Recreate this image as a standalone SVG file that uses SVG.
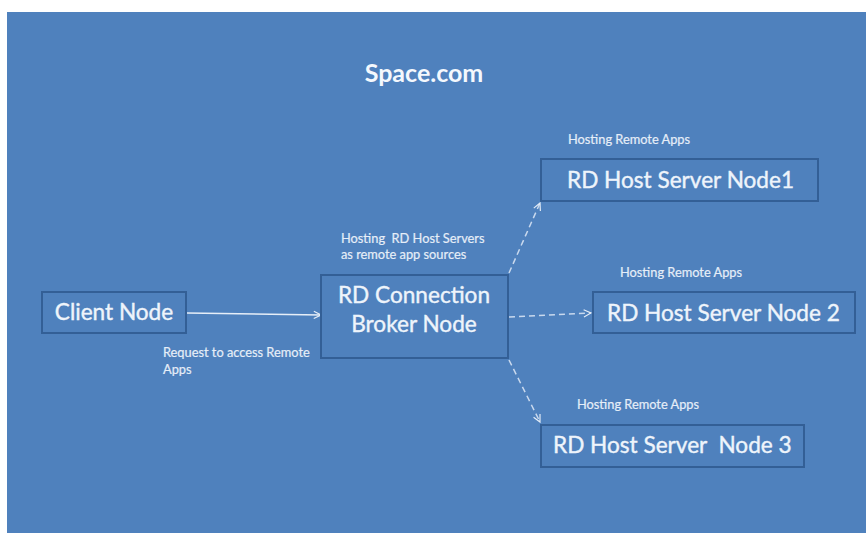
<svg xmlns="http://www.w3.org/2000/svg" width="866" height="533" viewBox="0 0 866 533">
<style>
.box{fill:#4f81bd;stroke:#335f96;stroke-width:2}
.big{font-family:Lato,"Open Sans","Liberation Sans",sans-serif;font-size:22.6px;fill:#eef4fb;stroke:#eef4fb;stroke-width:0.4}
.small{font-family:Lato,"Open Sans","Liberation Sans",sans-serif;font-size:12.8px;fill:#e6eef8;stroke:#e6eef8;stroke-width:0.2}
.solid{stroke:#e6eef8;stroke-width:1.5;fill:none}
.dash{stroke:#c9d9ee;stroke-width:1.5;fill:none;stroke-dasharray:6 4}
</style>
<defs>
<marker id="ah" viewBox="0 0 10 10" refX="9" refY="5" markerWidth="9" markerHeight="9" markerUnits="userSpaceOnUse" orient="auto">
<path d="M1,1 L9,5 L1,9" fill="none" stroke="#e6eef8" stroke-width="1.3"/>
</marker>
</defs>
<rect x="0" y="0" width="866" height="533" fill="#ffffff"/>
<rect x="7" y="12" width="859" height="521" fill="#4f81bd"/>
<text x="424" y="82" text-anchor="middle" font-family="Lato,'Open Sans','Liberation Sans',sans-serif" font-size="25" font-weight="bold" fill="#f4f8fd">Space.com</text>
<g id="connectors">
<line class="solid" x1="187" y1="313" x2="321" y2="315" marker-end="url(#ah)"/>
<line class="dash" x1="509" y1="273" x2="540" y2="203" marker-end="url(#ah)"/>
<line class="dash" x1="509" y1="317" x2="591" y2="313" marker-end="url(#ah)"/>
<line class="dash" x1="509" y1="360" x2="540" y2="422" marker-end="url(#ah)"/>
</g>
<g id="client">
<rect class="box" x="42" y="292" width="144" height="41"/>
<text class="big" x="114" y="320" text-anchor="middle">Client Node</text>
</g>
<text class="small" x="163" y="357">Request to access Remote</text>
<text class="small" x="163" y="374">Apps</text>
<g id="broker">
<rect class="box" x="321" y="275" width="187" height="83"/>
<text class="big" x="414" y="303" text-anchor="middle">RD Connection</text>
<text class="big" x="414" y="332" text-anchor="middle">Broker Node</text>
</g>
<text class="small" x="341" y="243" xml:space="preserve">Hosting  RD Host Servers</text>
<text class="small" x="341" y="259">as remote app sources</text>
<g id="host1">
<rect class="box" x="541" y="159" width="277" height="42"/>
<text class="big" x="567" y="188">RD Host Server Node1</text>
</g>
<text class="small" x="568" y="144">Hosting Remote Apps</text>
<g id="host2">
<rect class="box" x="593" y="292" width="262" height="41"/>
<text class="big" x="607" y="321">RD Host Server Node 2</text>
</g>
<text class="small" x="620" y="277">Hosting Remote Apps</text>
<g id="host3">
<rect class="box" x="541" y="425" width="263" height="42"/>
<text class="big" x="553" y="453" xml:space="preserve">RD Host Server  Node 3</text>
</g>
<text class="small" x="577" y="409">Hosting Remote Apps</text>
</svg>
